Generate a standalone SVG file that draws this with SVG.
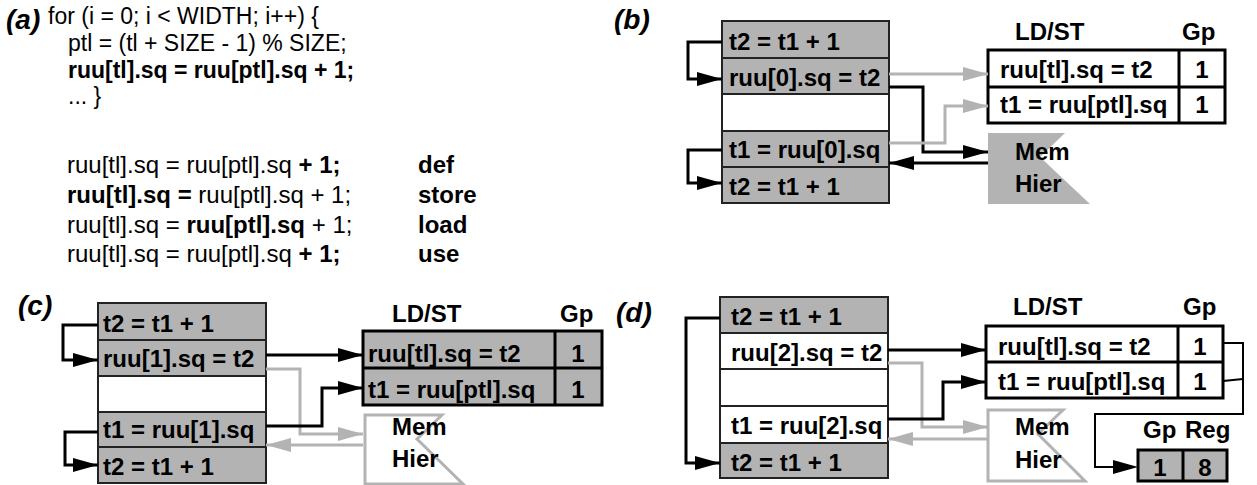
<svg xmlns="http://www.w3.org/2000/svg" width="1257" height="485" viewBox="0 0 1257 485">
<style>
text{font-family:"Liberation Sans",Arial,Helvetica,sans-serif;fill:#000}
.t{font-weight:bold;font-size:24px}
.c{font-size:24px}
.c2{font-size:23px}
.b{font-weight:bold}
.lbl{font-weight:bold;font-style:italic;font-size:28px}
.mid{text-anchor:middle}
.rg{fill:#b3b3b3;stroke:#222;stroke-width:2}
.rw{fill:#fff;stroke:#222;stroke-width:2}
.tw{fill:#fff;stroke:#000;stroke-width:3}
.tg{fill:#b3b3b3;stroke:#000;stroke-width:3}
.tl{stroke:#000;stroke-width:3}
.cb{fill:none;stroke:#000;stroke-width:3;marker-end:url(#ab)}
.cg{fill:none;stroke:#b3b3b3;stroke-width:3;marker-end:url(#ag)}
.ct{fill:none;stroke:#000;stroke-width:2}
.memg{fill:#b3b3b3;stroke:none}
.memw{fill:#fff;stroke:#b3b3b3;stroke-width:3}
</style>
<defs>
<marker id="ab" markerUnits="userSpaceOnUse" markerWidth="26" markerHeight="16" refX="25" refY="7" orient="auto"><path d="M0,0 L25,7 L0,14 Z" fill="#000"/></marker>
<marker id="ag" markerUnits="userSpaceOnUse" markerWidth="26" markerHeight="16" refX="25" refY="7" orient="auto"><path d="M0,0 L25,7 L0,14 Z" fill="#b3b3b3"/></marker>
</defs>

<g id="panel-a">
<text class="lbl" x="6" y="29">(a)</text>
<text class="c2" x="48" y="24">for (i = 0; i &lt; WIDTH; i++) {</text>
<text class="c2" x="68" y="51">ptl = (tl + SIZE - 1) % SIZE;</text>
<text class="c2 b" x="68" y="78">ruu[tl].sq = ruu[ptl].sq + 1;</text>
<text class="c2" x="68" y="104">... }</text>
<text class="c" x="67" y="173">ruu[tl].sq = ruu[ptl].sq <tspan class="b">+ 1;</tspan></text>
<text class="c" x="67" y="203"><tspan class="b">ruu[tl].sq =</tspan> ruu[ptl].sq + 1;</text>
<text class="c" x="67" y="233">ruu[tl].sq = <tspan class="b">ruu[ptl].sq</tspan> + 1;</text>
<text class="c" x="67" y="262">ruu[tl].sq = ruu[ptl].sq <tspan class="b">+ 1;</tspan></text>
<text class="c b" x="418" y="173">def</text>
<text class="c b" x="418" y="203">store</text>
<text class="c b" x="418" y="233">load</text>
<text class="c b" x="418" y="262">use</text>
</g>

<g id="label-b"><text class="lbl" x="614" y="29">(b)</text></g>
<g id="label-c"><text class="lbl" x="18" y="315">(c)</text></g>
<g id="label-d"><text class="lbl" x="616" y="322">(d)</text></g>

<g id="b-ruu">
<rect class="rg" x="722" y="21" width="167" height="37"/>
<rect class="rg" x="722" y="58" width="167" height="36"/>
<rect class="rw" x="722" y="94" width="167" height="37"/>
<rect class="rg" x="722" y="131" width="167" height="36"/>
<rect class="rg" x="722" y="167" width="167" height="36"/>
<text class="t" x="729" y="50">t2 = t1 + 1</text>
<text class="t" x="729" y="86">ruu[0].sq = t2</text>
<text class="t" x="729" y="158">t1 = ruu[0].sq</text>
<text class="t" x="729" y="195">t2 = t1 + 1</text>
</g>
<g id="b-ldst">
<text class="t" x="1015" y="40">LD/ST</text>
<text class="t" x="1182" y="40">Gp</text>
<rect class="tw" x="988" y="50" width="237" height="73"/>
<line class="tl" x1="988" y1="87" x2="1225" y2="87"/>
<line class="tl" x1="1179" y1="50" x2="1179" y2="123"/>
<text class="t" x="1000" y="78">ruu[tl].sq = t2</text>
<text class="t" x="1000" y="113">t1 = ruu[ptl].sq</text>
<text class="t mid" x="1202" y="78">1</text>
<text class="t mid" x="1202" y="113">1</text>
</g>
<g id="b-mem">
<path class="memg" d="M988,133 H1065 L1040,157 L1090,204 H988 Z"/>
<text class="t" x="1015" y="160">Mem</text>
<text class="t" x="1015" y="192">Hier</text>
</g>

<g id="c-ruu">
<rect class="rg" x="98" y="303" width="168" height="37"/>
<rect class="rg" x="98" y="340" width="168" height="36"/>
<rect class="rw" x="98" y="376" width="168" height="36"/>
<rect class="rg" x="98" y="412" width="168" height="35"/>
<rect class="rg" x="98" y="447" width="168" height="36"/>
<text class="t" x="103" y="332">t2 = t1 + 1</text>
<text class="t" x="103" y="367">ruu[1].sq = t2</text>
<text class="t" x="103" y="438">t1 = ruu[1].sq</text>
<text class="t" x="103" y="475">t2 = t1 + 1</text>
</g>
<g id="c-ldst">
<text class="t" x="392" y="322">LD/ST</text>
<text class="t" x="560" y="322">Gp</text>
<rect class="tg" x="363" y="331" width="239" height="74"/>
<line class="tl" x1="363" y1="368" x2="602" y2="368"/>
<line class="tl" x1="555" y1="331" x2="555" y2="405"/>
<text class="t" x="368" y="362">ruu[tl].sq = t2</text>
<text class="t" x="368" y="398">t1 = ruu[ptl].sq</text>
<text class="t mid" x="578" y="362">1</text>
<text class="t mid" x="578" y="398">1</text>
</g>
<g id="c-mem">
<path class="memw" d="M365,415 H442 L417,439 L463,484 H365 Z"/>
<text class="t" x="392" y="435">Mem</text>
<text class="t" x="392" y="467">Hier</text>
</g>

<g id="d-ruu">
<rect class="rg" x="720" y="297" width="168" height="36"/>
<rect class="rw" x="720" y="333" width="168" height="36"/>
<rect class="rw" x="720" y="369" width="168" height="37"/>
<rect class="rw" x="720" y="406" width="168" height="37"/>
<rect class="rg" x="720" y="443" width="168" height="35"/>
<text class="t" x="731" y="325">t2 = t1 + 1</text>
<text class="t" x="731" y="361">ruu[2].sq = t2</text>
<text class="t" x="731" y="434">t1 = ruu[2].sq</text>
<text class="t" x="731" y="471">t2 = t1 + 1</text>
</g>
<g id="d-ldst">
<text class="t" x="1013" y="315">LD/ST</text>
<text class="t" x="1183" y="315">Gp</text>
<rect class="tw" x="986" y="326" width="237" height="72"/>
<line class="tl" x1="986" y1="362" x2="1223" y2="362"/>
<line class="tl" x1="1178" y1="326" x2="1178" y2="398"/>
<text class="t" x="998" y="355">ruu[tl].sq = t2</text>
<text class="t" x="998" y="390">t1 = ruu[ptl].sq</text>
<text class="t mid" x="1200" y="355">1</text>
<text class="t mid" x="1200" y="390">1</text>
</g>
<g id="d-mem">
<path class="memw" d="M988,410 H1063 L1038,434 L1085,481 H988 Z"/>
<text class="t" x="1015" y="435">Mem</text>
<text class="t" x="1015" y="468">Hier</text>
</g>
<g id="d-gpreg">
<text class="t" x="1143" y="438">Gp</text>
<text class="t" x="1185" y="438">Reg</text>
<rect class="tg" x="1138" y="450" width="89" height="31"/>
<line class="tl" x1="1183" y1="450" x2="1183" y2="481"/>
<text class="t mid" x="1160" y="476">1</text>
<text class="t mid" x="1205" y="476">8</text>
</g>

<g id="connectors">
<path class="cb" d="M722,42 H688 V79 H722"/>
<path class="cb" d="M722,150 H688 V183 H722"/>
<path class="cg" d="M889,74 H988"/>
<path class="cb" d="M889,87 H923 V152 H988"/>
<path class="cg" d="M889,143 H945 V106 H988"/>
<path class="cb" d="M988,163 H889"/>

<path class="cb" d="M98,325 H63 V360 H98"/>
<path class="cb" d="M98,432 H65 V465 H98"/>
<path class="cb" d="M266,355 H363"/>
<path class="cg" d="M266,369 H300 V434 H363"/>
<path class="cb" d="M266,426 H322 V388 H363"/>
<path class="cg" d="M363,445 H266"/>

<path class="cb" d="M720,318 H686 V463 H720"/>
<path class="cb" d="M888,350 H986"/>
<path class="cg" d="M888,363 H922 V427 H988"/>
<path class="cb" d="M888,419 H943 V382 H986"/>
<path class="cg" d="M988,439 H888"/>
<path class="ct" d="M1223,343 H1243 V414 H1095 V467 H1115"/>
<path class="ct" d="M1223,381 L1243,379"/>
<path d="M1113,460 L1138,467 L1113,474 Z" fill="#000"/>
</g>
</svg>
